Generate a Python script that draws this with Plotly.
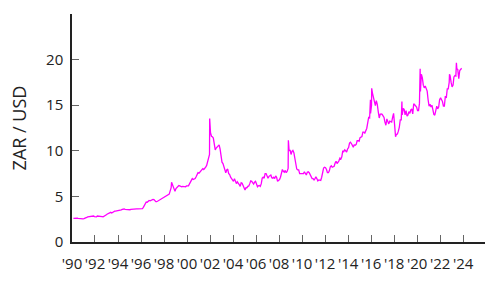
import pandas as pd
import plotly.graph_objects as go

# Monthly USD/ZAR values (mid-month), Jan 1990 .. Oct 2023
years = list(range(1990, 2024))
monthly_values = [
    # 1990
    2.58, 2.60, 2.62, 2.63, 2.62, 2.60, 2.58, 2.55, 2.53, 2.52, 2.53, 2.56,
    # 1991
    2.58, 2.62, 2.70, 2.75, 2.78, 2.80, 2.78, 2.80, 2.82, 2.85, 2.78, 2.74,
    # 1992
    2.75, 2.85, 2.85, 2.85, 2.83, 2.80, 2.78, 2.75, 2.80, 2.90, 2.95, 3.05,
    # 1993
    3.10, 3.15, 3.20, 3.25, 3.18, 3.28, 3.35, 3.38, 3.38, 3.40, 3.38, 3.40,
    # 1994
    3.42, 3.45, 3.52, 3.58, 3.62, 3.62, 3.58, 3.56, 3.55, 3.55, 3.56, 3.54,
    # 1995
    3.58, 3.60, 3.62, 3.64, 3.64, 3.65, 3.64, 3.64, 3.64, 3.65, 3.65, 3.65,
    # 1996
    3.66, 3.80, 4.05, 4.30, 4.38, 4.35, 4.50, 4.55, 4.52, 4.60, 4.68, 4.68,
    # 1997
    4.65, 4.48, 4.43, 4.42, 4.48, 4.55, 4.62, 4.65, 4.70, 4.75, 4.85, 4.87,
    # 1998
    4.95, 5.02, 5.05, 5.10, 5.25, 5.60, 5.95, 6.40, 6.05, 5.70, 5.55, 5.85,
    # 1999
    6.00, 6.10, 6.20, 6.15, 6.10, 6.05, 6.10, 6.10, 6.05, 6.05, 6.15, 6.15,
    # 2000
    6.15, 6.35, 6.55, 6.75, 6.95, 6.85, 6.90, 6.95, 7.15, 7.45, 7.60, 7.55,
    # 2001
    7.70, 7.80, 7.95, 8.05, 7.95, 8.05, 8.20, 8.40, 8.90, 9.20, 9.60, 12.00,
    # 2002
    11.60, 11.55, 11.40, 10.90, 10.10, 10.30, 10.40, 10.60, 10.65, 10.20, 9.20, 8.75,
    # 2003
    8.60, 8.25, 8.00, 7.60, 7.90, 8.00, 7.50, 7.40, 7.10, 6.90, 6.70, 6.65,
    # 2004
    6.95, 6.65, 6.40, 6.60, 6.50, 6.30, 6.10, 6.50, 6.45, 6.25, 5.95, 5.70,
    # 2005
    5.95, 5.95, 6.10, 6.15, 6.40, 6.70, 6.65, 6.40, 6.35, 6.55, 6.65, 6.35,
    # 2006
    6.05, 6.15, 6.20, 6.10, 6.40, 7.00, 7.10, 7.00, 7.50, 7.50, 7.15, 7.00,
    # 2007
    7.20, 7.25, 7.35, 7.05, 7.00, 7.10, 6.95, 7.25, 7.10, 6.65, 6.75, 6.85,
    # 2008
    7.10, 7.60, 7.95, 7.75, 7.65, 7.85, 7.60, 7.75, 8.10, 10.00, 10.10, 9.60,
    # 2009
    9.95, 10.05, 9.80, 9.00, 8.30, 8.00, 7.90, 7.90, 7.50, 7.50, 7.50, 7.50,
    # 2010
    7.50, 7.70, 7.40, 7.35, 7.65, 7.70, 7.60, 7.30, 7.10, 6.95, 6.95, 6.80,
    # 2011
    6.95, 7.15, 6.95, 6.70, 6.80, 6.80, 6.75, 7.10, 7.60, 8.10, 8.20, 8.15,
    # 2012
    7.95, 7.60, 7.60, 7.80, 8.25, 8.35, 8.20, 8.25, 8.30, 8.65, 8.85, 8.60,
    # 2013
    8.75, 8.90, 9.20, 9.10, 9.35, 10.00, 9.90, 10.10, 10.00, 9.85, 10.20, 10.35,
    # 2014
    10.85, 10.95, 10.80, 10.50, 10.40, 10.65, 10.60, 10.70, 11.10, 11.10, 11.05, 11.45,
    # 2015
    11.55, 11.55, 12.05, 12.05, 11.95, 12.25, 12.45, 13.05, 13.65, 13.60, 14.10, 15.00,
    # 2016
    16.30, 15.80, 15.40, 14.95, 15.50, 15.10, 14.30, 13.60, 14.00, 14.05, 14.00, 13.75,
    # 2017
    13.65, 13.15, 12.80, 13.50, 13.10, 12.95, 13.25, 13.20, 13.15, 13.70, 14.10, 12.90,
    # 2018
    12.10, 11.80, 11.85, 12.15, 12.60, 13.40, 13.40, 13.95, 14.65, 14.55, 13.95, 14.40,
    # 2019
    13.80, 13.90, 14.30, 14.10, 14.50, 14.60, 14.05, 15.15, 15.05, 14.90, 14.80, 14.40,
    # 2020
    14.40, 15.20, 16.50, 18.40, 18.00, 17.20, 16.90, 17.10, 16.80, 16.55, 15.60, 14.90,
    # 2021
    15.10, 14.80, 15.00, 14.50, 14.00, 13.90, 14.55, 14.90, 14.60, 14.80, 15.60, 15.80,
    # 2022
    15.60, 15.40, 14.90, 14.90, 16.00, 15.80, 16.80, 16.80, 17.50, 18.20, 17.50, 17.00,
    # 2023
    17.20, 18.10, 18.25, 18.20, 19.00, 18.90, 17.90, 18.80, 18.90, 19.05,
]

# Short-lived extremes between the monthly points
spike_dates = ["1998-08-28", "2001-12-20", "2008-10-22", "2015-12-11", "2016-01-20",
               "2018-02-15", "2018-09-05", "2020-04-06", "2022-10-25", "2023-06-01"]
spike_values = [6.55, 13.55, 11.15, 15.60, 16.85, 11.55, 15.40, 19.00, 18.40, 19.65]

tick_years = list(range(1990, 2025, 2))
tick_labels = ["'90", "'92", "'94", "'96", "'98", "'00", "'02", "'04", "'06", "'08",
               "'10", "'12", "'14", "'16", "'18", "'20", "'22", "'24"]
y_ticks = [0, 5, 10, 15, 20]

monthly_dates = pd.date_range("1990-01-15", periods=len(monthly_values), freq="MS") + pd.Timedelta(days=14)
df = pd.concat([
    pd.DataFrame({"date": monthly_dates, "v": monthly_values}),
    pd.DataFrame({"date": pd.to_datetime(spike_dates), "v": spike_values}),
]).sort_values("date")

fig = go.Figure(go.Scatter(x=df["date"], y=df["v"], mode="lines",
                           line=dict(color="#FF00FF", width=1.3), showlegend=False))

font = dict(family="Open Sans, Noto Sans, sans-serif", size=15, color="#222222")
fig.update_layout(
    width=500, height=286,
    margin=dict(l=72, r=15, t=14, b=44),
    paper_bgcolor="white", plot_bgcolor="white",
    font=font,
)
fig.update_xaxes(
    range=["1990-01-01", "2025-11-25"],
    tickvals=[f"{y}-01-01" for y in tick_years], ticktext=tick_labels,
    showline=True, linecolor="#222222", linewidth=1.5,
    ticks="inside", ticklen=7, tickcolor="#666666", tickwidth=1,
    showgrid=False, zeroline=False, ticklabelstandoff=7,
)
fig.update_yaxes(
    range=[0, 25], tickvals=y_ticks,
    showline=True, linecolor="#222222", linewidth=1.5,
    ticks="inside", ticklen=7, tickcolor="#666666", tickwidth=1,
    showgrid=False, zeroline=False, ticklabelstandoff=4,
    title=dict(text="ZAR / USD", standoff=15),
)
fig.write_html("out.html")
